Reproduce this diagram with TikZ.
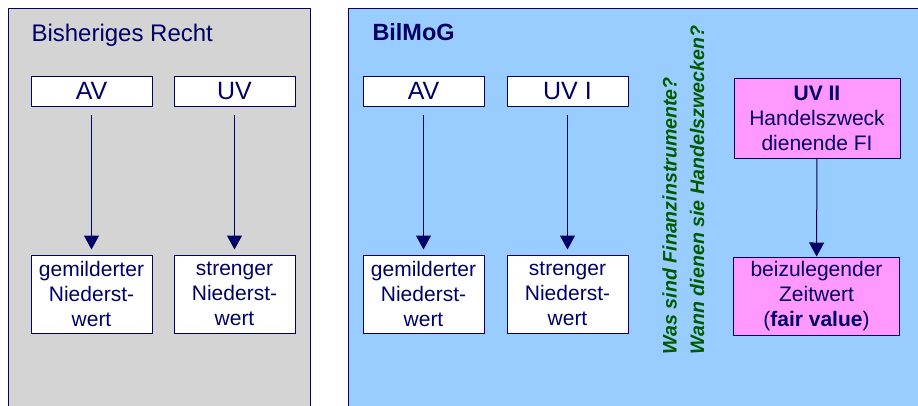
\documentclass[tikz,border=0pt]{standalone}
\usepackage{fontspec}
\setmainfont{Liberation Sans}
\usetikzlibrary{arrows.meta}
\definecolor{navy}{RGB}{0,0,102}
\definecolor{grau}{RGB}{212,212,212}
\definecolor{hellblau}{RGB}{153,204,255}
\definecolor{rosa}{RGB}{255,153,255}
\definecolor{dunkelgruen}{RGB}{0,90,0}
\tikzset{every picture/.style={line width=0.75pt}}

\begin{document}
\begin{tikzpicture}[x=0.75pt,y=0.75pt,yscale=-1,xscale=1,
  kasten/.style={draw=navy, fill=white, text=navy, inner sep=0.75pt, align=center, font=\fontsize{15.75}{18.75}\selectfont},
  kopf/.style={kasten, minimum width=90.75pt, minimum height=22.5pt, font=\fontsize{18.75}{21}\selectfont},
  wert/.style={kasten, minimum width=90.75pt, minimum height=58.5pt},
  fikasten/.style={kasten, fill=rosa, minimum width=124.5pt, minimum height=60pt},
  pfeil/.style={draw=navy, -{Triangle[width=11.25pt,length=10.5pt]}}]
\useasboundingbox (0,0) rectangle (918,405);

%Shape: Rectangle [Bisheriges Recht]
\draw [draw=navy, fill=grau] (8,8) rectangle (310,420);
%Shape: Rectangle [BilMoG]
\draw [draw=navy, fill=hellblau] (348,8) rectangle (925,420);

% Text Node
\node (titelalt) [anchor=base west, inner sep=0pt, text=navy, font=\fontsize{18}{21}\selectfont] at (31,41) {Bisheriges Recht};
% Text Node
\node (titelneu) [anchor=base west, inner sep=0pt, text=navy, font=\fontsize{17.6}{21}\bfseries] at (372,40) {BilMoG};

% Boxes, left
\node (avalt) [kopf] at (91.5,91) {AV};
\node (uvalt) [kopf] at (234.5,91) {UV};
\node (gemalt) [wert] at (91.5,294) {gemilderter\\Niederst-\\wert};
\node (strealt) [wert] at (234.5,294) {strenger\\Niederst-\\wert};

% Boxes, right
\node (avneu) [kopf] at (423.5,91) {AV};
\node (uvneu) [kopf] at (567.5,91) {UV I};
\node (gemneu) [wert] at (423.5,294) {gemilderter\\Niederst-\\wert};
\node (streneu) [wert] at (567.5,294) {strenger\\Niederst-\\wert};

\node (uvzwei) [fikasten] at (817,118.5) {\textbf{UV II}\\Handelszweck\\dienende FI};
\node (zeitwert) [fikasten, minimum height=58.5pt] at (816.5,296) {beizulegender\\Zeitwert\\(\textbf{fair value})};

% Text Node
\node (frage) [rotate=90, anchor=north west, inner sep=0pt, align=left, text=dunkelgruen, font=\fontsize{14.7}{20.5}\bfseries\itshape] at (662,355) {Was sind Finanzinstrumente?\\Wann dienen sie Handelszwecken?};

%Straight Lines
\draw [pfeil, shorten <=6pt, shorten >=3.75pt] (avalt) -- (gemalt);
\draw [pfeil, shorten <=6pt, shorten >=3.75pt] (uvalt) -- (strealt);
\draw [pfeil, shorten <=6pt, shorten >=3.75pt] (avneu) -- (gemneu);
\draw [pfeil, shorten <=6pt, shorten >=3.75pt] (uvneu) -- (streneu);
\draw [pfeil] (uvzwei) -- (zeitwert);

\end{tikzpicture}
\end{document}
